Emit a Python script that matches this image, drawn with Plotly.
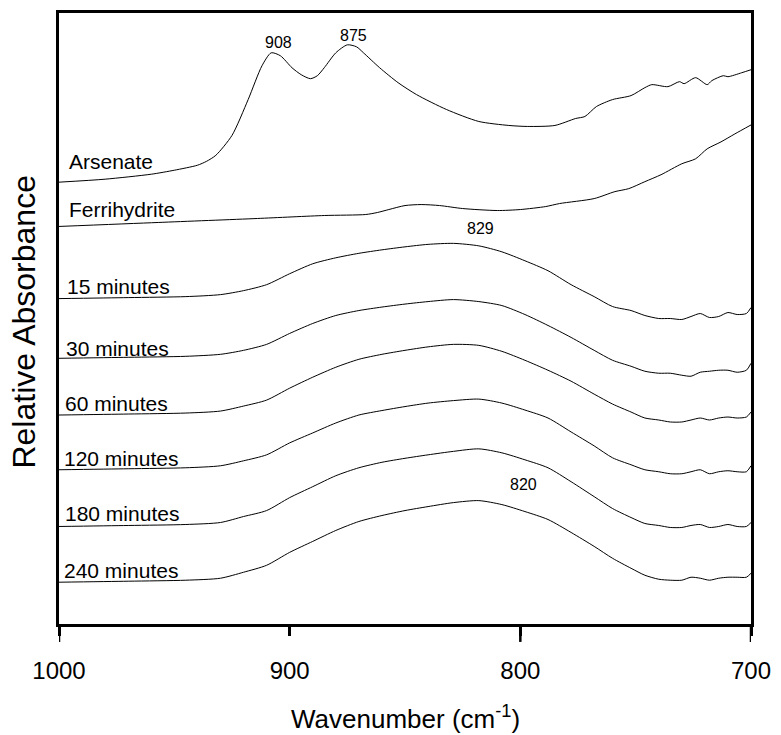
import plotly.graph_objects as go

# ---- spectra (relative absorbance, arbitrary units) ----
wn_arsenate = [1000, 980, 960, 950, 940, 936, 932, 925, 918, 912, 908, 904, 899, 895, 891, 888,
               885, 880, 875, 871, 868, 861, 853, 845, 832, 818, 805, 797, 785, 776, 772,
               767, 760, 752, 746, 743, 736, 731, 729, 724, 719, 717, 712, 710, 704, 700]
abs_arsenate = [0.00, 0.03, 0.08, 0.12, 0.17, 0.21, 0.27, 0.47, 0.83, 1.17, 1.30, 1.27, 1.15, 1.08, 1.04, 1.07,
                1.15, 1.30, 1.38, 1.36, 1.30, 1.15, 1.00, 0.88, 0.73, 0.61, 0.57, 0.56, 0.57, 0.64, 0.66,
                0.76, 0.83, 0.87, 0.95, 0.98, 0.96, 1.01, 0.99, 1.05, 0.98, 1.02, 1.07, 1.06, 1.10, 1.13]

wn_ferrihydrite = [1000, 957, 914, 885, 867, 862, 857, 850, 843, 835, 825, 810, 800, 789,
                   783, 768, 759, 753, 746, 739, 730, 724, 719, 713, 707, 700]
abs_ferrihydrite = [0.00, 0.04, 0.08, 0.11, 0.12, 0.14, 0.17, 0.21, 0.22, 0.21, 0.18, 0.16, 0.17, 0.20,
                    0.23, 0.28, 0.35, 0.38, 0.45, 0.52, 0.63, 0.68, 0.78, 0.85, 0.93, 1.02]

# sorption time series share one wavenumber grid
wn_sorption = [1000, 970, 945, 930, 920, 910, 900, 890, 880, 870, 860, 850, 840, 829, 818, 808, 798,
               788, 778, 768, 760, 752, 746, 740, 735, 730, 726, 722, 718, 714, 710, 706, 702, 700]
abs_15min = [0.00, 0.01, 0.02, 0.04, 0.08, 0.14, 0.25, 0.35, 0.41, 0.455, 0.49, 0.52, 0.545, 0.555, 0.53, 0.47, 0.38,
             0.28, 0.14, 0.02, -0.08, -0.12, -0.17, -0.20, -0.20, -0.21, -0.18, -0.15, -0.19, -0.18, -0.14, -0.16, -0.15, -0.09]
abs_30min = [0.00, 0.01, 0.02, 0.04, 0.08, 0.14, 0.25, 0.35, 0.43, 0.48, 0.515, 0.545, 0.57, 0.59, 0.57, 0.53, 0.44,
             0.33, 0.21, 0.08, -0.02, -0.08, -0.13, -0.15, -0.15, -0.17, -0.18, -0.14, -0.13, -0.12, -0.12, -0.14, -0.12, -0.05]
abs_60min = [0.00, 0.01, 0.02, 0.04, 0.09, 0.15, 0.27, 0.38, 0.48, 0.56, 0.61, 0.65, 0.685, 0.71, 0.70, 0.64, 0.55,
             0.45, 0.34, 0.21, 0.11, 0.03, -0.03, -0.05, -0.07, -0.07, -0.05, -0.03, -0.05, -0.03, -0.02, -0.03, -0.02, 0.03]
abs_120min = [0.00, 0.01, 0.02, 0.04, 0.09, 0.15, 0.27, 0.37, 0.47, 0.55, 0.595, 0.635, 0.67, 0.695, 0.71, 0.67, 0.60,
              0.52, 0.38, 0.24, 0.12, 0.05, 0.00, -0.02, -0.04, -0.04, -0.02, 0.00, -0.04, -0.02, -0.01, -0.02, -0.02, 0.04]
abs_180min = [0.00, 0.01, 0.02, 0.04, 0.10, 0.16, 0.29, 0.40, 0.51, 0.59, 0.645, 0.685, 0.72, 0.755, 0.78, 0.74, 0.67,
              0.59, 0.45, 0.30, 0.18, 0.09, 0.03, 0.01, -0.01, -0.01, 0.01, 0.02, -0.01, 0.00, 0.02, 0.00, 0.00, 0.04]
abs_240min = [0.00, 0.01, 0.02, 0.04, 0.10, 0.17, 0.30, 0.41, 0.52, 0.61, 0.67, 0.72, 0.76, 0.80, 0.82, 0.78, 0.71,
              0.63, 0.50, 0.36, 0.24, 0.14, 0.07, 0.03, 0.02, 0.02, 0.05, 0.04, 0.02, 0.04, 0.05, 0.05, 0.05, 0.09]

series_names = ["Arsenate", "Ferrihydrite", "15 minutes", "30 minutes", "60 minutes",
                "120 minutes", "180 minutes", "240 minutes"]
series_wn = [wn_arsenate, wn_ferrihydrite] + [wn_sorption] * 6
series_abs = [abs_arsenate, abs_ferrihydrite, abs_15min, abs_30min, abs_60min,
              abs_120min, abs_180min, abs_240min]
# vertical stacking offsets of the spectra
stack_offsets = [4.44, 3.995, 3.27, 2.67, 2.10, 1.55, 0.98, 0.42]

# band positions marked on the spectra: (wavenumber, series index)
band_labels = [(908, 0), (875, 0), (829, 2), (820, 7)]

x_ticks = [1000, 900, 800, 700]

# ---- styling ----
FONT = "Liberation Sans, Arial, sans-serif"
name_x = [996.4, 996.4, 997.6, 997.9, 998.3, 998.7, 998.3, 998.7]
name_lift = [0.21, 0.175, 0.12, 0.10, 0.12, 0.11, 0.13, 0.12]
band_shift = {908: (7, 10), 875: (6, 9), 829: (27, 15), 820: (49, 16)}

fig = go.Figure()
for wn, a, off in zip(series_wn, series_abs, stack_offsets):
    fig.add_trace(go.Scatter(
        x=wn, y=[v + off for v in a], mode="lines",
        line=dict(color="black", width=1, shape="spline", smoothing=0.7),
        showlegend=False, hoverinfo="skip"))

annotations = []
for name, off, nx, lift in zip(series_names, stack_offsets, name_x, name_lift):
    annotations.append(dict(x=nx, y=off + lift, xref="x", yref="y", text=name,
                            showarrow=False, xanchor="left", yanchor="middle",
                            font=dict(family=FONT, size=21, color="black")))

for band, idx in band_labels:
    wn, a = series_wn[idx], series_abs[idx]
    j = min(range(len(wn)), key=lambda k: abs(wn[k] - band))
    dx, dy = band_shift[band]
    annotations.append(dict(x=band, y=a[j] + stack_offsets[idx], xref="x", yref="y",
                            text=str(band), showarrow=False, xanchor="center", yanchor="middle",
                            xshift=dx, yshift=dy,
                            font=dict(family=FONT, size=16, color="black")))

annotations.append(dict(x=0.5, y=0, xref="paper", yref="paper", yshift=-93,
                        text="Wavenumber (cm<sup>-1</sup>)", showarrow=False,
                        xanchor="center", yanchor="middle",
                        font=dict(family=FONT, size=26, color="black")))
annotations.append(dict(x=0, y=0.495, xref="paper", yref="paper", xshift=-35,
                        text="Relative Absorbance", textangle=-90, showarrow=False,
                        xanchor="center", yanchor="middle",
                        font=dict(family=FONT, size=32, color="black")))

# longer tick marks at 1000, 800 and 700
shapes = [dict(type="line", xref="x", yref="paper", x0=v, x1=v, y0=0, y1=-18 / 614,
               line=dict(color="black", width=2.5)) for v in (1000, 800, 700)]

fig.update_layout(
    width=781, height=735,
    margin=dict(l=59, r=24, t=10, b=111),
    paper_bgcolor="white", plot_bgcolor="white",
    annotations=annotations, shapes=shapes,
    xaxis=dict(range=[1000, 700], showgrid=False, zeroline=False,
               showline=True, mirror=True, linewidth=3, linecolor="black",
               ticks="outside", ticklen=9, tickwidth=2.5, tickcolor="black",
               tickvals=x_ticks, ticktext=[str(t) for t in x_ticks],
               ticklabelstandoff=14,
               tickfont=dict(family=FONT, size=24, color="black")),
    yaxis=dict(range=[0, 6.14], showgrid=False, zeroline=False,
               showline=True, mirror=True, linewidth=3, linecolor="black",
               showticklabels=False, ticks=""),
)

fig.write_html("out.html", config={"displayModeBar": False})
